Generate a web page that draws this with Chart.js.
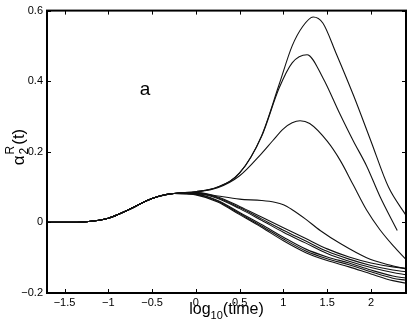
<!DOCTYPE html>
<html><head><meta charset="utf-8">
<script src="https://cdn.jsdelivr.net/npm/chart.js@4"></script>
<style>html,body{margin:0;padding:0;background:#fff;}#wrap{width:409px;height:327px;}</style>
</head><body><div id="wrap"><canvas id="c" width="409" height="327"></canvas></div>
<script>
const xTicks = [-1.5, -1, -0.5, 0, 0.5, 1, 1.5, 2];
const yTicks = [-0.2, 0, 0.2, 0.4, 0.6];

const earlyX = [-1.7, -1.5, -1.25, -1.0, -0.75, -0.5, -0.25];
const earlyY = [0, 0, 0.002, 0.012, 0.038, 0.068, 0.082];

const curve1X = [0, 0.25, 0.5, 0.75, 0.95, 1.1, 1.22, 1.34, 1.45, 1.6, 1.8, 2.0, 2.2, 2.4];
const curve1Y = [0.087, 0.1, 0.14, 0.245, 0.39, 0.5, 0.555, 0.582, 0.565, 0.48, 0.36, 0.23, 0.1, 0.02];

const curve2X = [0, 0.25, 0.5, 0.75, 0.95, 1.1, 1.27, 1.45, 1.64, 1.8, 1.95, 2.1, 2.3];
const curve2Y = [0.087, 0.1, 0.14, 0.243, 0.38, 0.452, 0.475, 0.41, 0.31, 0.23, 0.16, 0.075, -0.023];

const curve3X = [0, 0.25, 0.5, 0.75, 0.88, 1.0, 1.1, 1.19, 1.3, 1.5, 1.65, 1.8, 1.95, 2.1, 2.25, 2.4];
const curve3Y = [0.086, 0.098, 0.132, 0.195, 0.232, 0.265, 0.282, 0.288, 0.28, 0.23, 0.175, 0.105, 0.035, -0.02, -0.065, -0.105];

const curve4X = [0, 0.25, 0.5, 0.75, 0.9, 1.0, 1.1, 1.25, 1.42, 1.65, 1.95, 2.2, 2.4];
const curve4Y = [0.085, 0.075, 0.066, 0.062, 0.057, 0.05, 0.036, 0.01, -0.023, -0.06, -0.1, -0.12, -0.132];

const bundleX = [0, 0.25, 0.5, 0.75, 1.0, 1.25, 1.5, 1.75, 2.0, 2.25, 2.4];
const curve5Y  = [0.083, 0.072, 0.045, 0.015, -0.015, -0.045, -0.075, -0.098, -0.115, -0.126, -0.13];
const curve6Y  = [0.082, 0.070, 0.042, 0.010, -0.022, -0.052, -0.082, -0.104, -0.122, -0.135, -0.14];
const curve7Y  = [0.081, 0.068, 0.039, 0.006, -0.028, -0.058, -0.088, -0.110, -0.128, -0.142, -0.148];
const curve8Y  = [0.080, 0.062, 0.028, -0.006, -0.042, -0.075, -0.098, -0.115, -0.135, -0.152, -0.158];
const curve9Y  = [0.079, 0.060, 0.025, -0.010, -0.047, -0.080, -0.103, -0.120, -0.140, -0.158, -0.164];
const curve10Y = [0.078, 0.058, 0.022, -0.014, -0.052, -0.085, -0.108, -0.126, -0.146, -0.165, -0.172];

const panelLabel = {text: 'a', x: -0.58, y: 0.375};

function pts(xs, ys) {
  const X = earlyX.concat(xs), Y = earlyY.concat(ys);
  return X.map((x, i) => ({x: x, y: Y[i]}));
}
const series = [
  [curve1X, curve1Y], [curve2X, curve2Y], [curve3X, curve3Y], [curve4X, curve4Y],
  [bundleX, curve5Y], [bundleX, curve6Y], [bundleX, curve7Y],
  [bundleX, curve8Y], [bundleX, curve9Y], [bundleX, curve10Y]
];
const datasets = series.map(s => ({
  data: pts(s[0], s[1]),
  borderColor: '#111', borderWidth: 1.1, pointRadius: 0,
  cubicInterpolationMode: 'monotone', fill: false
}));

function fmt(v) {
  const s = String(v);
  return v < 0 ? '\u2212' + s.slice(1) : s;
}

const FONT = '"Liberation Sans", Arial, Helvetica, sans-serif';

const decor = {
  id: 'decor',
  afterDraw(chart) {
    const ctx = chart.ctx, a = chart.chartArea;
    const xs = chart.scales.x, ys = chart.scales.y;
    ctx.save();
    ctx.strokeStyle = '#000';
    ctx.lineWidth = 2;
    ctx.strokeRect(a.left, a.top, a.right - a.left, a.bottom - a.top);
    ctx.lineWidth = 1;
    const tl = 4;
    ctx.beginPath();
    xTicks.forEach(v => {
      const px = Math.round(xs.getPixelForValue(v)) + 0.5;
      ctx.moveTo(px, a.bottom); ctx.lineTo(px, a.bottom - tl);
      ctx.moveTo(px, a.top); ctx.lineTo(px, a.top + tl);
    });
    yTicks.forEach(v => {
      const py = Math.round(ys.getPixelForValue(v)) + 0.5;
      ctx.moveTo(a.left, py); ctx.lineTo(a.left + tl, py);
      ctx.moveTo(a.right, py); ctx.lineTo(a.right - tl, py);
    });
    ctx.stroke();

    ctx.fillStyle = '#000';
    // panel label
    ctx.font = '19px ' + FONT;
    ctx.textAlign = 'center'; ctx.textBaseline = 'middle';
    ctx.fillText(panelLabel.text, xs.getPixelForValue(panelLabel.x), ys.getPixelForValue(panelLabel.y));

    // x title: log10(time)
    ctx.textAlign = 'left'; ctx.textBaseline = 'alphabetic';
    const big = '16px ' + FONT, small = '11px ' + FONT;
    ctx.font = big; const w1 = ctx.measureText('log').width;
    ctx.font = small; const w2 = ctx.measureText('10').width;
    ctx.font = big; const w3 = ctx.measureText('(time)').width;
    const cx = (a.left + a.right) / 2;
    let x0 = cx - (w1 + w2 + w3) / 2;
    const by = 314;
    ctx.font = big; ctx.fillText('log', x0, by);
    ctx.font = small; ctx.fillText('10', x0 + w1, by + 5);
    ctx.font = big; ctx.fillText('(time)', x0 + w1 + w2, by);

    // y title: alpha_2^R(t), rotated
    ctx.save();
    const ybig = '17px ' + FONT, ysmall = '12px ' + FONT;
    ctx.translate(24, 147);
    ctx.rotate(-Math.PI / 2);
    ctx.font = ybig; const u1 = ctx.measureText('\u03B1').width;
    ctx.font = ysmall; const u2 = Math.max(ctx.measureText('2').width, ctx.measureText('R').width);
    ctx.font = ybig; const u3 = ctx.measureText('(t)').width;
    let y0 = -(u1 + u2 + u3 + 2) / 2;
    ctx.font = ybig; ctx.fillText('\u03B1', y0, 0);
    ctx.font = ysmall; ctx.fillText('2', y0 + u1 + 1, 4);
    ctx.fillText('R', y0 + u1 + 1, -10);
    ctx.font = ybig; ctx.fillText('(t)', y0 + u1 + u2 + 2, 0);
    ctx.restore();
    ctx.restore();
  }
};

new Chart(document.getElementById('c'), {
  type: 'line',
  data: {datasets: datasets},
  options: {
    responsive: false, animation: false, devicePixelRatio: 1,
    layout: {padding: {left: 0, right: 3, top: 10, bottom: 0}},
    plugins: {legend: {display: false}, tooltip: {enabled: false}},
    scales: {
      x: {
        type: 'linear', min: -1.7, max: 2.4,
        afterBuildTicks: s => { s.ticks = xTicks.map(v => ({value: v})); },
        afterFit: s => { s.height = 34; },
        grid: {display: false, drawTicks: false}, border: {display: false},
        ticks: {color: '#000', font: {size: 11, family: FONT}, padding: 3, maxRotation: 0, autoSkip: false,
                callback: v => fmt(v)}
      },
      y: {
        type: 'linear', min: -0.2, max: 0.6,
        afterBuildTicks: s => { s.ticks = yTicks.map(v => ({value: v})); },
        afterFit: s => { s.width = 47; },
        grid: {display: false, drawTicks: false}, border: {display: false},
        ticks: {color: '#000', font: {size: 11, family: FONT}, padding: 4, autoSkip: false,
                callback: v => fmt(v)}
      }
    }
  },
  plugins: [decor]
});
</script></body></html>
